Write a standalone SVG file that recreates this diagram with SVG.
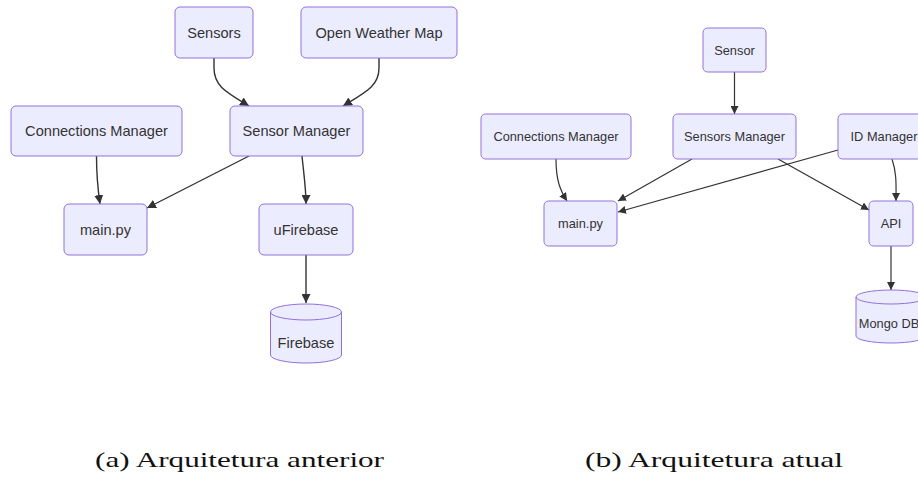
<svg xmlns="http://www.w3.org/2000/svg" width="918" height="480" viewBox="0 0 918 480">
  <defs>
    <marker id="arrowA" viewBox="0 0 10 10" refX="10" refY="5" markerUnits="userSpaceOnUse" markerWidth="9" markerHeight="9" orient="auto">
      <path d="M0,0 L10,5 L0,10 z" fill="#333333"/>
    </marker>
    <marker id="arrowB" viewBox="0 0 10 10" refX="10" refY="5" markerUnits="userSpaceOnUse" markerWidth="8" markerHeight="8" orient="auto">
      <path d="M0,0 L10,5 L0,10 z" fill="#333333"/>
    </marker>
    <style>
      .node rect, .node path { fill: #ECECFF; stroke: #9370DB; stroke-width: 1; }
      .node text { font-family: "Liberation Sans", Arial, sans-serif; fill: #333333; text-anchor: middle; dominant-baseline: central; }
      .a text { font-size: 14.6px; }
      .b text { font-size: 12.8px; }
      .edges path { fill: none; stroke: #333333; }
      .edges.a path { stroke-width: 1.4; marker-end: url(#arrowA); }
      .edges.b path { stroke-width: 1.2; marker-end: url(#arrowB); }
      .caption { font-family: "Liberation Serif", "Times New Roman", serif; font-size: 22px; fill: #111111; }
    </style>
  </defs>
  <rect width="918" height="480" fill="#ffffff"/>

  <!-- (a) previous architecture -->
  <g id="edges-a" class="edges a">
    <path d="M214,58 L214,68 C214,86 226,92 249,106"/>
    <path d="M379,58 L379,68 C379,86 366,92 343,106"/>
    <path d="M96.5,156 C96.5,178 98,190 100,204"/>
    <path d="M249,156 L147,208"/>
    <path d="M302,156 C304,176 306,188 306,204"/>
    <path d="M306,255 L306,303"/>
  </g>

  <g id="a-sensors" class="node a">
    <rect x="175" y="7" width="78" height="51" rx="5"/>
    <text x="214" y="32.5">Sensors</text>
  </g>
  <g id="a-owm" class="node a">
    <rect x="301" y="7" width="156" height="51" rx="5"/>
    <text x="379" y="32.5">Open Weather Map</text>
  </g>
  <g id="a-connections" class="node a">
    <rect x="11" y="106" width="171" height="50" rx="5"/>
    <text x="96.5" y="131">Connections Manager</text>
  </g>
  <g id="a-sensor-manager" class="node a">
    <rect x="230" y="106" width="133" height="50" rx="5"/>
    <text x="296.5" y="131">Sensor Manager</text>
  </g>
  <g id="a-main" class="node a">
    <rect x="64" y="204" width="83" height="51" rx="5"/>
    <text x="105.5" y="229.5">main.py</text>
  </g>
  <g id="a-ufirebase" class="node a">
    <rect x="259" y="204" width="94" height="51" rx="5"/>
    <text x="306" y="229.5">uFirebase</text>
  </g>
  <g id="a-firebase" class="node a">
    <path d="M270.5,312 a35.5,8 0 0 0 71,0 a35.5,8 0 0 0 -71,0 l0,43 a35.5,8 0 0 0 71,0 l0,-43"/>
    <text x="306" y="343">Firebase</text>
  </g>

  <!-- (b) current architecture -->
  <g id="edges-b" class="edges b">
    <path d="M734.5,72 L734.5,114"/>
    <path d="M556,159 C556,180 560,190 567,201"/>
    <path d="M692,159 L618,201"/>
    <path d="M838,150 L618,212"/>
    <path d="M778,159 L869,210"/>
    <path d="M892,159 C897,174 896,186 896,201"/>
    <path d="M891,246 L891,290"/>
  </g>

  <g id="b-sensor" class="node b">
    <rect x="703" y="28" width="63" height="44" rx="4.5"/>
    <text x="734.5" y="50">Sensor</text>
  </g>
  <g id="b-connections" class="node b">
    <rect x="481" y="114" width="150" height="45" rx="4.5"/>
    <text x="556" y="136.5">Connections Manager</text>
  </g>
  <g id="b-sensors-manager" class="node b">
    <rect x="673" y="114" width="123" height="45" rx="4.5"/>
    <text x="734.5" y="136.5">Sensors Manager</text>
  </g>
  <g id="b-id-manager" class="node b">
    <rect x="838" y="114" width="95" height="45" rx="4.5"/>
    <text x="884" y="136.5">ID Manager</text>
  </g>
  <g id="b-main" class="node b">
    <rect x="544" y="201" width="73" height="45" rx="4.5"/>
    <text x="580.5" y="223.5">main.py</text>
  </g>
  <g id="b-api" class="node b">
    <rect x="869" y="201" width="44" height="45" rx="4.5"/>
    <text x="891" y="223.5">API</text>
  </g>
  <g id="b-mongo" class="node b">
    <path d="M856,297 a35,7 0 0 0 70,0 a35,7 0 0 0 -70,0 l0,39 a35,7 0 0 0 70,0 l0,-39"/>
    <text x="889" y="323">Mongo DB</text>
  </g>

  <!-- captions -->
  <text class="caption" x="95" y="467" textLength="289" lengthAdjust="spacingAndGlyphs">(a) Arquitetura anterior</text>
  <text class="caption" x="585" y="467" textLength="258" lengthAdjust="spacingAndGlyphs">(b) Arquitetura atual</text>
</svg>
